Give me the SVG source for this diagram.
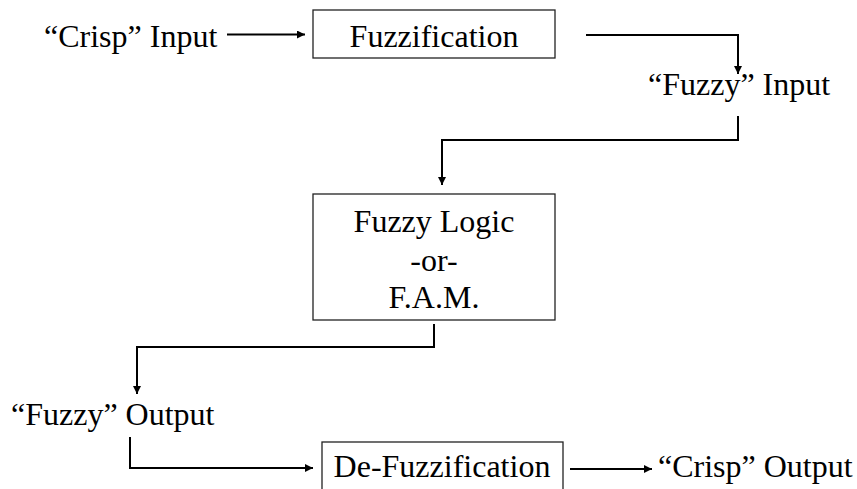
<svg xmlns="http://www.w3.org/2000/svg" width="857" height="489" viewBox="0 0 857 489">
  <style>
    .lbl { font-family: "Liberation Serif", "Times New Roman", serif; font-size: 32px; fill: #000; }
    .box { fill: #fff; stroke: #222; stroke-width: 1.3; }
    .wire { fill: none; stroke: #000; stroke-width: 2; }
  </style>
  <defs>
    <marker id="arrow" viewBox="0 0 10 10" refX="10" refY="5" markerWidth="8" markerHeight="8" markerUnits="userSpaceOnUse" orient="auto">
      <path d="M0,0 L10,5 L0,10 z" fill="#000"/>
    </marker>
  </defs>
  <rect width="857" height="489" fill="#fff"/>

  <!-- flow lines, each ending in a small filled arrowhead -->
  <g id="connectors">
    <path class="wire" marker-end="url(#arrow)" d="M227,34.5 H305"/>
    <path class="wire" marker-end="url(#arrow)" d="M586,35 H738 V74"/>
    <path class="wire" marker-end="url(#arrow)" d="M738,116 V140 H442 V185"/>
    <path class="wire" marker-end="url(#arrow)" d="M434,324 V347 H137 V394"/>
    <path class="wire" marker-end="url(#arrow)" d="M130,437 V468 H313"/>
    <path class="wire" marker-end="url(#arrow)" d="M570,469 H652"/>
  </g>

  <g id="crisp-input">
    <text class="lbl" x="44" y="47">&#8220;Crisp&#8221; Input</text>
  </g>

  <g id="fuzzification">
    <rect class="box" x="313" y="10" width="242" height="48"/>
    <text class="lbl" x="434" y="46.5" text-anchor="middle">Fuzzification</text>
  </g>

  <g id="fuzzy-input">
    <text class="lbl" x="648" y="95">&#8220;Fuzzy&#8221; Input</text>
  </g>

  <g id="fuzzy-logic">
    <rect class="box" x="313" y="194" width="242" height="126"/>
    <text class="lbl" x="434" y="232" text-anchor="middle">Fuzzy Logic</text>
    <text class="lbl" x="434" y="271" text-anchor="middle">-or-</text>
    <text class="lbl" x="434" y="308" text-anchor="middle">F.A.M.</text>
  </g>

  <g id="fuzzy-output">
    <text class="lbl" x="11" y="425">&#8220;Fuzzy&#8221; Output</text>
  </g>

  <g id="de-fuzzification">
    <rect class="box" x="322" y="442" width="241" height="60"/>
    <text class="lbl" x="442" y="477" text-anchor="middle">De-Fuzzification</text>
  </g>

  <g id="crisp-output">
    <text class="lbl" x="658" y="477">&#8220;Crisp&#8221; Output</text>
  </g>
</svg>
